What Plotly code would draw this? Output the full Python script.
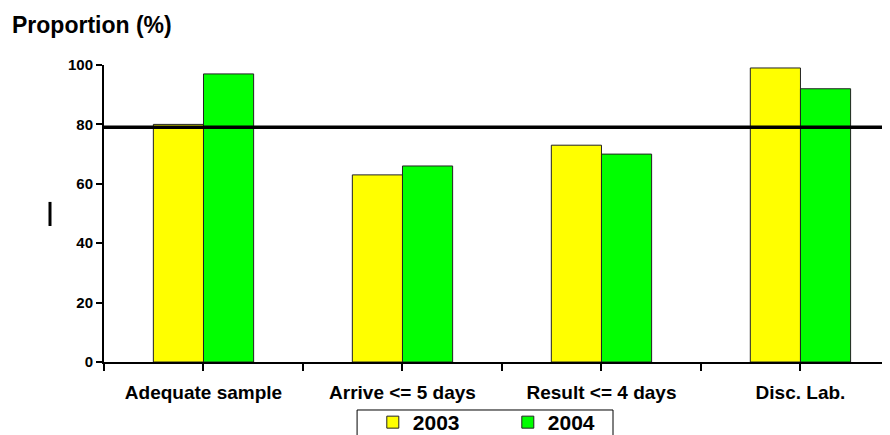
import plotly.graph_objects as go

categories = ["Adequate sample", "Arrive <= 5 days", "Result <= 4 days", "Disc. Lab."]
values_2003 = [80, 63, 73, 99]
values_2004 = [97, 66, 70, 92]
series_names = ["2003", "2004"]
target = 79
y_ticks = [0, 20, 40, 60, 80, 100]

FONT = "Liberation Sans, Arial, sans-serif"
pos = list(range(len(categories)))
bw = 0.252

fig = go.Figure()
fig.add_trace(go.Bar(
    x=pos, y=values_2003, name=series_names[0], width=bw, offset=-bw,
    marker=dict(color="#FFFF00", line=dict(color="#222222", width=1)),
))
fig.add_trace(go.Bar(
    x=pos, y=values_2004, name=series_names[1], width=bw, offset=0,
    marker=dict(color="#00FF00", line=dict(color="#222222", width=1)),
))

tickvals = []
ticktext = []
for i, c in enumerate(categories):
    tickvals += [i - 0.5, i]
    ticktext += ["", c]
tickvals.append(len(categories) - 0.5)
ticktext.append("")

fig.add_shape(type="line", xref="paper", x0=0, x1=1, yref="y", y0=target, y1=target,
              line=dict(color="black", width=3.5), layer="above")
# stray vertical mark left of the y axis (as in the reference)
fig.add_shape(type="line", xref="paper", x0=-0.0687, x1=-0.0687, yref="paper", y0=0.458, y1=0.539,
              line=dict(color="black", width=3))
# legend frame (continues below the visible area, as in the reference)
fig.add_shape(type="rect", xref="paper", yref="paper", x0=0.322, x1=0.6476, y0=-0.1616, y1=-0.35,
              line=dict(color="black", width=1), fillcolor="rgba(0,0,0,0)")

fig.add_annotation(text="Proportion (%)", xref="paper", yref="paper", x=-0.119, y=1.136,
                   xanchor="left", yanchor="middle", showarrow=False,
                   font=dict(family=FONT, size=23, color="black", weight="bold"))

fig.update_layout(
    width=882, height=427,
    margin=dict(l=96, r=0, t=57, b=73, autoexpand=False),
    paper_bgcolor="white", plot_bgcolor="white",
    barmode="overlay",
    font=dict(family=FONT, color="black"),
    xaxis=dict(range=[-0.5, 3.45], tickvals=tickvals, ticktext=ticktext,
               showline=True, linecolor="black", linewidth=2,
               ticks="outside", ticklen=7, tickwidth=2, tickcolor="black",
               showgrid=False, zeroline=False, ticklabelstandoff=5,
               tickfont=dict(family=FONT, size=19, color="black", weight="bold")),
    yaxis=dict(range=[0, 100], tickvals=y_ticks,
               showline=True, linecolor="black", linewidth=2,
               ticks="outside", ticklen=6, tickwidth=2, tickcolor="black",
               showgrid=False, zeroline=False,
               tickfont=dict(family=FONT, size=15, color="black", weight="bold")),
    legend=dict(orientation="h", x=0.342, y=-0.1347, xanchor="left", yanchor="top",
                borderwidth=0, bgcolor="rgba(0,0,0,0)",
                entrywidth=90, entrywidthmode="pixels",
                font=dict(family=FONT, size=21, color="black", weight="bold")),
    showlegend=True,
)

fig.write_html("out.html")
